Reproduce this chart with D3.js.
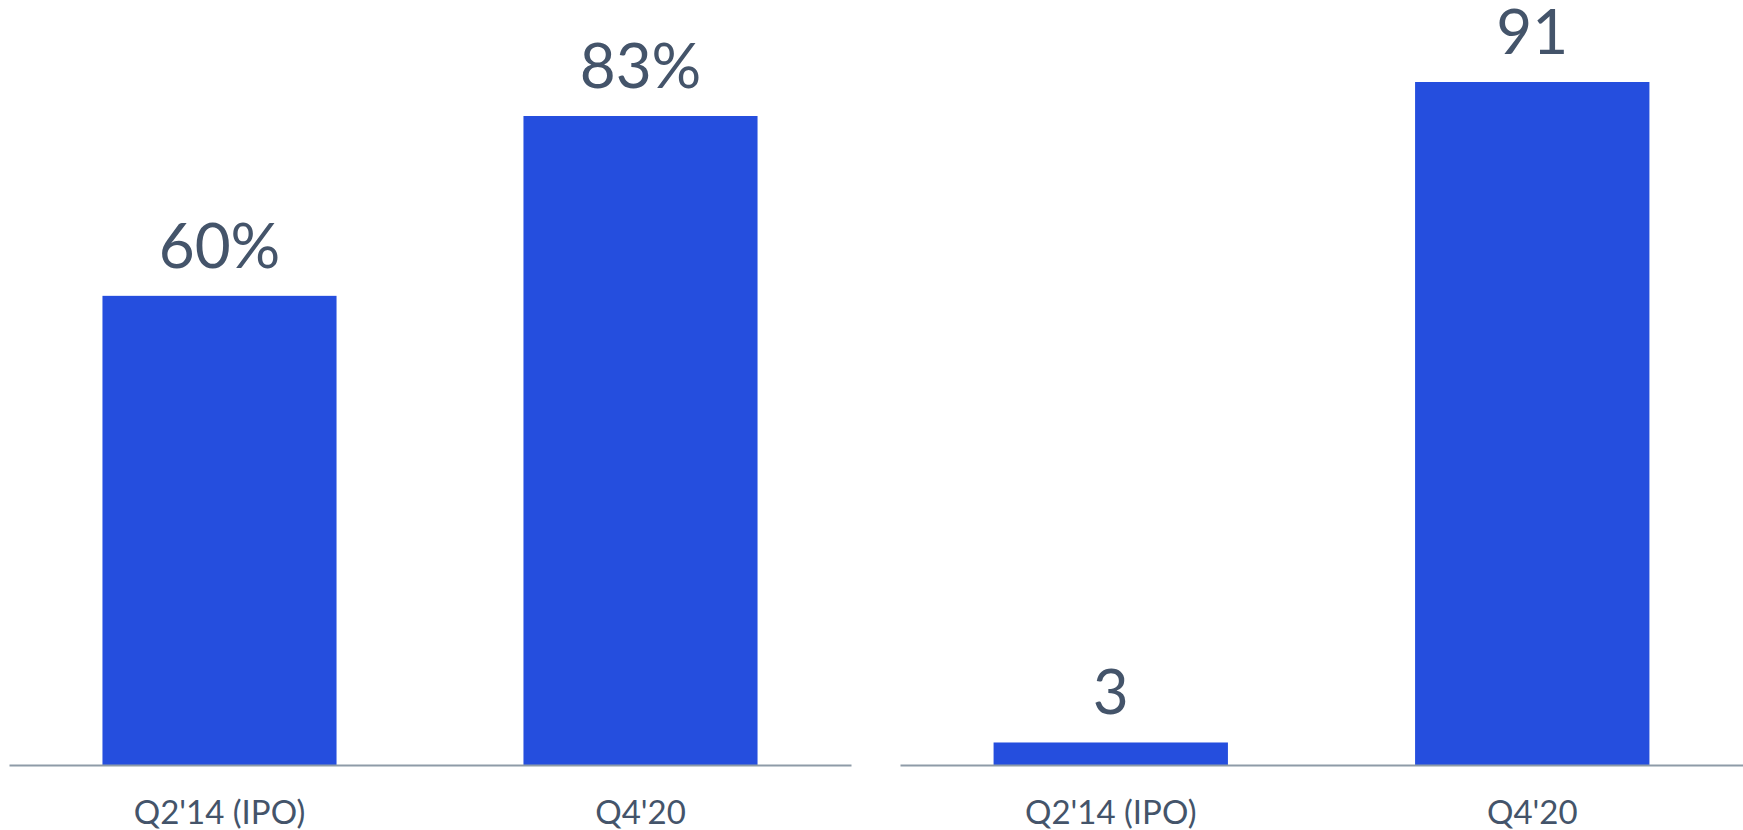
<!DOCTYPE html>
<html>
<head>
<meta charset="utf-8">
<script src="https://cdn.jsdelivr.net/npm/d3@7"></script>
<style>
  html, body { margin: 0; padding: 0; background: #fff; }
  svg { display: block; }
</style>
</head>
<body>
<svg id="chart" width="1743" height="830"></svg>
<script>
const categories = ["Q2'14 (IPO)", "Q4'20"];
const leftValues = [60, 83];
const leftLabels = ['60%', '83%'];
const rightValues = [3, 91];
const rightLabels = ['3', '91'];

const BAR_FILL = '#254EDE';
const TEXT_FILL = '#44546A';
const AXIS_STROKE = '#8E9BA8';
const FONT = 'Lato, "Open Sans", sans-serif';

const root = d3.select('#chart');
const baseY = 765;

function panel(x0, x1, values, labels, topY) {
  const g = root.append('g');

  const x = d3.scaleBand()
    .domain(categories)
    .range([x0, x1])
    .paddingInner(0.444)
    .paddingOuter(0.222);

  const y = d3.scaleLinear()
    .domain([0, d3.max(values)])
    .range([baseY, topY]);

  g.selectAll('.bar')
    .data(values)
    .enter()
    .append('rect')
    .attr('class', 'bar')
    .attr('fill', BAR_FILL)
    .attr('x', (d, i) => x(categories[i]))
    .attr('width', x.bandwidth())
    .attr('y', d => y(d))
    .attr('height', d => baseY - y(d));

  g.selectAll('.value-label')
    .data(values)
    .enter()
    .append('text')
    .attr('class', 'value-label')
    .attr('fill', TEXT_FILL)
    .attr('font-family', FONT)
    .attr('font-size', '62px')
    .attr('text-anchor', 'middle')
    .attr('x', (d, i) => x(categories[i]) + x.bandwidth() / 2)
    .attr('y', d => y(d) - 28)
    .text((d, i) => labels[i]);

  // x axis: only the baseline and labels, no ticks
  const axis = g.append('g')
    .attr('transform', 'translate(0,' + baseY + ')')
    .call(d3.axisBottom(x).tickSize(0).tickPadding(0));
  axis.select('.domain')
    .attr('stroke', AXIS_STROKE)
    .attr('stroke-width', 2);
  axis.selectAll('text')
    .attr('fill', TEXT_FILL)
    .attr('font-family', FONT)
    .attr('font-size', '33px')
    .attr('dy', 0)
    .attr('y', 59);
}

panel(9, 851, leftValues, leftLabels, 116);
panel(900, 1743, rightValues, rightLabels, 82);
</script>
</body>
</html>
